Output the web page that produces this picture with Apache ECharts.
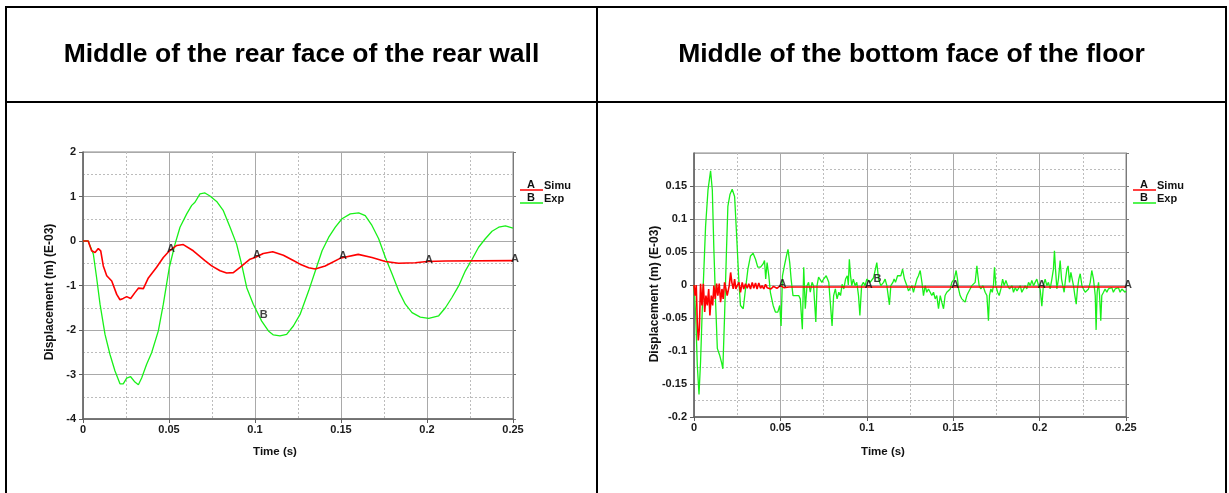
<!DOCTYPE html>
<html>
<head>
<meta charset="utf-8">
<title>Displacement – Simu vs Exp</title>
<script src="https://cdn.jsdelivr.net/npm/echarts@6/dist/echarts.min.js"></script>
<style>
  html, body { margin: 0; padding: 0; background: #ffffff; }
  #chart { width: 1229px; height: 493px; }
</style>
</head>
<body>
<div id="chart"></div>
<script>
// ---- Data: [time (s), displacement (m, E-03)] ----

// Middle of the rear face of the rear wall
const rearWallSimu = [
  [0, 0], [0.003, 0], [0.005, -0.22], [0.007, -0.26], [0.0089, -0.17], [0.0103, -0.22],
  [0.0118, -0.56], [0.0138, -0.78], [0.0167, -0.9], [0.0196, -1.2], [0.0215, -1.32],
  [0.0234, -1.29], [0.0254, -1.25], [0.0277, -1.29], [0.0302, -1.16], [0.0322, -1.06],
  [0.0351, -1.07], [0.038, -0.83], [0.0428, -0.59], [0.0467, -0.37], [0.05, -0.23],
  [0.0545, -0.1], [0.0583, -0.08], [0.0641, -0.22], [0.0709, -0.44], [0.0748, -0.56],
  [0.0797, -0.67], [0.0835, -0.72], [0.0874, -0.71], [0.0913, -0.59], [0.0971, -0.41],
  [0.1, -0.37], [0.1048, -0.28], [0.1103, -0.24], [0.1165, -0.32], [0.1223, -0.44],
  [0.1262, -0.52], [0.1312, -0.6], [0.135, -0.63], [0.1408, -0.56], [0.15, -0.38],
  [0.16, -0.3], [0.168, -0.37], [0.1758, -0.46], [0.1835, -0.5], [0.1932, -0.49],
  [0.2, -0.46], [0.2106, -0.45], [0.25, -0.44]
];
const rearWallExp = [
  [0, 0], [0.003, 0], [0.006, -0.29], [0.0079, -0.82], [0.0099, -1.42], [0.0128, -2.1],
  [0.0157, -2.55], [0.0186, -2.92], [0.0215, -3.21], [0.0234, -3.21], [0.0254, -3.08],
  [0.0277, -3.05], [0.0302, -3.17], [0.0322, -3.23], [0.0341, -3.08], [0.037, -2.77],
  [0.0399, -2.51], [0.0438, -2.02], [0.0467, -1.42], [0.0486, -0.97], [0.0502, -0.59],
  [0.0535, -0.07], [0.0564, 0.31], [0.0603, 0.61], [0.0632, 0.8], [0.0651, 0.87],
  [0.068, 1.06], [0.0709, 1.08], [0.0738, 1.01], [0.0777, 0.89], [0.0816, 0.68],
  [0.0855, 0.31], [0.0893, -0.07], [0.0922, -0.52], [0.0952, -1.05], [0.099, -1.42],
  [0.1039, -1.8], [0.1078, -2.02], [0.1107, -2.11], [0.1145, -2.13], [0.1184, -2.1],
  [0.1223, -1.91], [0.1262, -1.65], [0.1312, -1.12], [0.1351, -0.67], [0.139, -0.22],
  [0.1428, 0.08], [0.1467, 0.31], [0.1506, 0.5], [0.1554, 0.61], [0.1603, 0.63],
  [0.1641, 0.57], [0.168, 0.35], [0.1719, 0.05], [0.1758, -0.37], [0.1797, -0.74],
  [0.1835, -1.12], [0.1874, -1.42], [0.1913, -1.61], [0.1961, -1.71], [0.201, -1.74],
  [0.2068, -1.68], [0.2107, -1.5], [0.2145, -1.27], [0.2184, -1.01], [0.2223, -0.67],
  [0.2262, -0.41], [0.23, -0.14], [0.2339, 0.05], [0.2378, 0.22], [0.2417, 0.31],
  [0.2456, 0.34], [0.25, 0.29]
];

// Middle of the bottom face of the floor
const floorSimu = [
  [0, 0], [0.0006, -0.016], [0.0013, 0.0], [0.0019, -0.056], [0.0025, -0.084], [0.0031, -0.066],
  [0.0038, 0.002], [0.0046, -0.031], [0.0054, 0.002], [0.0062, -0.041], [0.0069, -0.016],
  [0.0077, -0.031], [0.0085, -0.006], [0.0092, -0.046], [0.01, -0.016], [0.0108, -0.031],
  [0.0115, -0.001], [0.0123, -0.021], [0.0131, 0.002], [0.0138, -0.016], [0.0146, 0.002],
  [0.0154, -0.026], [0.0162, -0.006], [0.0169, -0.021], [0.0177, 0.004], [0.0185, -0.006],
  [0.0192, -0.016], [0.0204, -0.001], [0.0212, 0.019], [0.0219, 0.004], [0.0227, -0.006],
  [0.0235, 0.009], [0.0242, -0.006], [0.025, -0.001], [0.026, 0.004], [0.0269, -0.011],
  [0.0279, 0.004], [0.0288, -0.006], [0.0298, 0.002], [0.0308, -0.005], [0.0317, 0.002],
  [0.0327, -0.006], [0.0337, 0.004], [0.0346, -0.005], [0.0356, 0.003], [0.0365, -0.006],
  [0.0375, 0.003], [0.0385, -0.005], [0.0394, -0.001], [0.0404, -0.006], [0.0414, 0.001],
  [0.0423, -0.004], [0.0433, -0.002], [0.0445, -0.006], [0.046, -0.002], [0.048, -0.005],
  [0.05, -0.001], [0.052, -0.004], [0.055, -0.003], [0.1, -0.003], [0.15, -0.003],
  [0.2, -0.003], [0.25, -0.003]
];
const floorExp = [
  [0, 0], [0.001, -0.046], [0.0019, -0.121], [0.0029, -0.166], [0.0038, -0.116], [0.0048, -0.036],
  [0.0058, 0.029], [0.0067, 0.089], [0.0081, 0.144], [0.0096, 0.173], [0.0106, 0.144],
  [0.0115, 0.054], [0.0125, -0.026], [0.0135, -0.096], [0.0148, -0.106], [0.016, -0.118],
  [0.0167, -0.127], [0.0177, -0.046], [0.0187, 0.044], [0.0196, 0.119], [0.0208, 0.137],
  [0.0221, 0.145], [0.0235, 0.134], [0.0246, 0.079], [0.026, 0.004], [0.0269, -0.031],
  [0.0285, -0.036], [0.0298, -0.006], [0.0312, 0.024], [0.0327, 0.044], [0.0342, 0.048],
  [0.0356, 0.039], [0.0369, 0.027], [0.0385, 0.027], [0.04, 0.032], [0.0408, 0.037],
  [0.0415, 0.009], [0.0423, 0.034], [0.0433, 0.014], [0.0442, -0.011], [0.0458, -0.031],
  [0.0471, -0.041], [0.0485, -0.041], [0.0496, -0.031], [0.0504, -0.062], [0.0512, 0.014],
  [0.0523, 0.029], [0.0535, 0.044], [0.0544, 0.054], [0.0554, 0.034], [0.0562, 0.009],
  [0.0573, -0.016], [0.0587, -0.016], [0.0606, -0.016], [0.0615, -0.021], [0.0627, -0.067],
  [0.0635, 0.027], [0.0644, -0.036], [0.0654, -0.001], [0.0663, 0.004], [0.0673, -0.011],
  [0.0683, 0.004], [0.0692, -0.001], [0.0705, -0.056], [0.0712, -0.001], [0.0721, 0.012],
  [0.0731, 0.015], [0.074, 0.004], [0.075, 0.009], [0.0765, 0.014], [0.078, 0.004],
  [0.0799, -0.062], [0.0808, -0.016], [0.0818, -0.006], [0.0828, -0.021], [0.0838, -0.011],
  [0.0848, -0.016], [0.0857, 0.001], [0.0867, -0.006], [0.0877, 0.009], [0.0887, 0.014],
  [0.0893, 0.0], [0.0899, 0.039], [0.0906, 0.014], [0.0913, -0.001], [0.0922, 0.009],
  [0.0932, -0.001], [0.0942, 0.004], [0.0952, -0.016], [0.096, -0.046], [0.097, -0.001],
  [0.098, 0.004], [0.099, -0.001], [0.1, 0.009], [0.1019, 0.004], [0.1039, 0.011],
  [0.1058, 0.034], [0.1068, 0.009], [0.1081, -0.001], [0.1097, 0.004], [0.1106, 0.009],
  [0.1116, -0.001], [0.1125, -0.001], [0.1131, -0.03], [0.1139, -0.001], [0.1151, 0.004],
  [0.1158, 0.009], [0.1166, 0.004], [0.1178, 0.014], [0.1185, 0.017], [0.1197, 0.014],
  [0.1207, 0.024], [0.1218, 0.009], [0.1232, -0.001], [0.1241, -0.009], [0.1251, -0.011],
  [0.1261, -0.001], [0.127, -0.011], [0.128, -0.001], [0.129, 0.009], [0.1299, 0.014],
  [0.1309, 0.022], [0.1319, 0.004], [0.1328, -0.016], [0.1338, -0.001], [0.1347, -0.011],
  [0.1357, -0.006], [0.1367, -0.011], [0.1376, -0.016], [0.1386, -0.011], [0.1396, -0.021],
  [0.1405, -0.016], [0.1415, -0.036], [0.1425, -0.016], [0.1434, -0.026], [0.1444, -0.036],
  [0.1453, -0.016], [0.1463, -0.011], [0.1473, -0.014], [0.1483, -0.006], [0.1492, 0.004],
  [0.1506, 0.009], [0.1517, 0.022], [0.1525, 0.009], [0.1531, -0.006], [0.154, -0.016],
  [0.155, -0.021], [0.156, -0.019], [0.1569, -0.026], [0.1579, -0.016], [0.1588, -0.011],
  [0.1598, -0.006], [0.1608, -0.001], [0.1617, -0.001], [0.1627, 0.004], [0.1637, 0.029],
  [0.1643, 0.014], [0.165, -0.001], [0.166, -0.006], [0.1672, -0.001], [0.1685, -0.011],
  [0.1695, -0.016], [0.1704, -0.054], [0.171, -0.016], [0.1718, -0.006], [0.1726, -0.011],
  [0.1733, -0.001], [0.1739, 0.027], [0.1747, -0.001], [0.1757, -0.011], [0.1766, -0.016],
  [0.1776, -0.006], [0.1786, 0.009], [0.1795, -0.001], [0.1805, 0.007], [0.1815, -0.001],
  [0.1826, -0.006], [0.184, -0.001], [0.1849, -0.011], [0.1859, -0.004], [0.1869, -0.009],
  [0.1878, -0.006], [0.1888, -0.001], [0.1897, -0.011], [0.1907, -0.006], [0.1917, -0.001],
  [0.1926, -0.006], [0.1936, 0.004], [0.1946, -0.001], [0.1955, 0.007], [0.1965, -0.001],
  [0.1974, 0.004], [0.1984, 0.009], [0.1994, -0.001], [0.2003, -0.006], [0.2013, -0.032],
  [0.2022, -0.001], [0.2032, 0.009], [0.2042, -0.001], [0.2051, 0.004], [0.2061, -0.006],
  [0.2071, 0.009], [0.208, 0.024], [0.2086, 0.052], [0.2092, 0.024], [0.21, -0.006],
  [0.2109, 0.009], [0.2119, 0.037], [0.2127, 0.009], [0.2134, -0.001], [0.2142, -0.011],
  [0.215, 0.009], [0.2158, 0.024], [0.2165, 0.029], [0.2173, 0.004], [0.2181, 0.019],
  [0.2188, 0.022], [0.2196, -0.001], [0.2204, -0.016], [0.2212, -0.029], [0.2219, -0.006],
  [0.2227, 0.009], [0.2235, 0.017], [0.2245, -0.001], [0.2254, -0.006], [0.2264, -0.011],
  [0.2273, -0.014], [0.2283, -0.006], [0.2293, 0.004], [0.2302, 0.022], [0.2312, 0.009],
  [0.2322, -0.016], [0.2327, -0.068], [0.2333, -0.011], [0.2341, 0.004], [0.2347, -0.016],
  [0.2354, -0.054], [0.236, -0.016], [0.237, -0.011], [0.2379, -0.006], [0.2389, -0.011],
  [0.2398, -0.006], [0.2408, -0.009], [0.2418, -0.004], [0.2427, -0.011], [0.2437, -0.006],
  [0.2447, -0.009], [0.2456, -0.004], [0.2466, -0.011], [0.2476, -0.006], [0.2485, -0.009],
  [0.2495, -0.011], [0.25, -0.009]
];

// Curve-identifier letters placed on the curves
const simuMarkTimes = [0.05, 0.1, 0.15, 0.2, 0.25];
const expMarkTime = 0.1039;

const panelTitles = ['Middle of the rear face of the rear wall', 'Middle of the bottom face of the floor'];
const seriesNames = ['Simu', 'Exp'];
const seriesLetters = ['A', 'B'];
const xAxisTitle = 'Time (s)';
const yAxisTitle = 'Displacement (m) (E-03)';

// ---- Styling ----
const RED = '#ff0000';
const GREEN = '#19f019';
const FONT = '"Liberation Sans", Arial, Helvetica, sans-serif';
const tickFont = { fontFamily: FONT, fontWeight: 'bold', fontSize: 11, color: '#1a1a1a' };
const smallBold = 'bold 11px ' + FONT;

const fmt = v => String(parseFloat(Number(v).toFixed(4)));

const panels = [
  { left: 83, top: 152, width: 430, height: 267, yMin: -4, yMax: 2, yStep: 1, showTopLabel: true,
    simu: rearWallSimu, exp: rearWallExp, expOffset: [2, -6],
    yTitleX: 50, yTitleY: 292, xTitleX: 275, cellX: 301.5 },
  { left: 694, top: 153, width: 432, height: 264, yMin: -0.2, yMax: 0.2, yStep: 0.05, showTopLabel: false,
    simu: floorSimu, exp: floorExp, expOffset: [4, 1],
    yTitleX: 655, yTitleY: 294, xTitleX: 883, cellX: 911.5 }
];

const grid = [], xAxis = [], yAxis = [], series = [], graphic = [];

panels.forEach((p, i) => {
  grid.push({ left: p.left, top: p.top, width: p.width, height: p.height,
    show: true, borderColor: '#8a8a8a', borderWidth: 1, backgroundColor: '#ffffff' });

  xAxis.push({
    type: 'value', gridIndex: i, min: 0, max: 0.25, interval: 0.05,
    axisLine: { show: true, onZero: false, lineStyle: { color: '#5f5f5f', width: 1.5 } },
    axisTick: { show: true, length: 4, lineStyle: { color: '#5f5f5f' } },
    axisLabel: { ...tickFont, margin: 5, formatter: fmt, showMinLabel: true, showMaxLabel: true },
    splitLine: { show: true, lineStyle: { color: '#a9a9a9', width: 1 } },
    minorTick: { show: false, splitNumber: 2 },
    minorSplitLine: { show: true, lineStyle: { color: '#bcbcbc', width: 1, type: [2, 2] } }
  });

  yAxis.push({
    type: 'value', gridIndex: i, min: p.yMin, max: p.yMax, interval: p.yStep, position: 'left',
    axisLine: { show: true, onZero: false, lineStyle: { color: '#5f5f5f', width: 1.5 } },
    axisTick: { show: true, length: 4, lineStyle: { color: '#5f5f5f' } },
    axisLabel: { ...tickFont, margin: 7, formatter: fmt, showMaxLabel: p.showTopLabel, showMinLabel: true },
    splitLine: { show: true, lineStyle: { color: '#a9a9a9', width: 1 } },
    minorTick: { show: false, splitNumber: 2 },
    minorSplitLine: { show: true, lineStyle: { color: '#bcbcbc', width: 1, type: [2, 2] } }
  });
  // right-hand frame with outward ticks
  yAxis.push({
    type: 'value', gridIndex: i, min: p.yMin, max: p.yMax, interval: p.yStep, position: 'right',
    axisLine: { show: true, onZero: false, lineStyle: { color: '#7a7a7a', width: 1 } },
    axisTick: { show: true, length: 3, lineStyle: { color: '#7a7a7a' } },
    axisLabel: { show: false }, splitLine: { show: false }
  });

  const yIdx = i * 2;
  series.push({
    name: seriesNames[1], type: 'line', xAxisIndex: i, yAxisIndex: yIdx,
    data: p.exp, showSymbol: false, symbol: 'none', smooth: false,
    lineStyle: { color: GREEN, width: 1.3 }, itemStyle: { color: GREEN }, z: 2
  });
  series.push({
    name: seriesNames[0], type: 'line', xAxisIndex: i, yAxisIndex: yIdx,
    data: p.simu, showSymbol: false, symbol: 'none', smooth: false,
    lineStyle: { color: RED, width: 1.6 }, itemStyle: { color: RED }, z: 3
  });

  const near = (a, b) => Math.abs(a - b) < 1e-9;
  series.push({
    type: 'scatter', xAxisIndex: i, yAxisIndex: yIdx, symbolSize: 1, silent: true, z: 5,
    itemStyle: { color: 'rgba(0,0,0,0)' },
    label: { show: true, position: 'inside', formatter: seriesLetters[0], offset: [2, -2],
      fontFamily: FONT, fontWeight: 'bold', fontSize: 11, color: '#111' },
    data: p.simu.filter(d => simuMarkTimes.some(t => near(t, d[0])))
  });
  series.push({
    type: 'scatter', xAxisIndex: i, yAxisIndex: yIdx, symbolSize: 1, silent: true, z: 5,
    itemStyle: { color: 'rgba(0,0,0,0)' },
    label: { show: true, position: 'inside', formatter: seriesLetters[1], offset: p.expOffset,
      fontFamily: FONT, fontWeight: 'bold', fontSize: 11, color: '#111' },
    data: p.exp.filter(d => near(d[0], expMarkTime))
  });

  // Legend (letter over coloured line, then name)
  const lx = p.left + p.width + 7;
  [[RED, 0, 190], [GREEN, 1, 203]].forEach(([col, k, ly]) => {
    graphic.push({ type: 'line', silent: true, z: 10,
      shape: { x1: lx, y1: ly, x2: lx + 23, y2: ly }, style: { stroke: col, lineWidth: 1.5 } });
    graphic.push({ type: 'text', silent: true, z: 11, x: lx + 11, y: ly - 5,
      style: { text: seriesLetters[k], font: smallBold, fill: '#111', align: 'center', verticalAlign: 'middle' } });
    graphic.push({ type: 'text', silent: true, z: 11, x: lx + 24, y: ly - 4,
      style: { text: seriesNames[k], font: smallBold, fill: '#111', align: 'left', verticalAlign: 'middle' } });
  });

  // Axis titles
  graphic.push({ type: 'text', silent: true, x: p.yTitleX, y: p.yTitleY, rotation: Math.PI / 2,
    style: { text: yAxisTitle, font: 'bold 12px ' + FONT, fill: '#111', align: 'center', verticalAlign: 'middle' } });
  graphic.push({ type: 'text', silent: true, x: p.xTitleX, y: 452,
    style: { text: xAxisTitle, font: 'bold 11.5px ' + FONT, fill: '#111', align: 'center', verticalAlign: 'middle' } });

  // Panel heading
  graphic.push({ type: 'text', silent: true, x: p.cellX, y: 55,
    style: { text: panelTitles[i], font: 'bold 26.5px ' + FONT, fill: '#000', align: 'center', verticalAlign: 'middle' } });
});

// Table frame around the two panels
const frameLines = [
  [6, 7, 1226, 7], [6, 102, 1226, 102],
  [6, 6, 6, 493], [597, 6, 597, 493], [1226, 6, 1226, 493]
];
frameLines.forEach(([x1, y1, x2, y2]) => {
  graphic.push({ type: 'line', silent: true, z: 20,
    shape: { x1, y1, x2, y2 }, style: { stroke: '#000', lineWidth: 2 } });
});

const chart = echarts.init(document.getElementById('chart'), null, { renderer: 'canvas' });
chart.setOption({
  animation: false,
  backgroundColor: '#ffffff',
  grid, xAxis, yAxis, series, graphic
});
</script>
</body>
</html>
